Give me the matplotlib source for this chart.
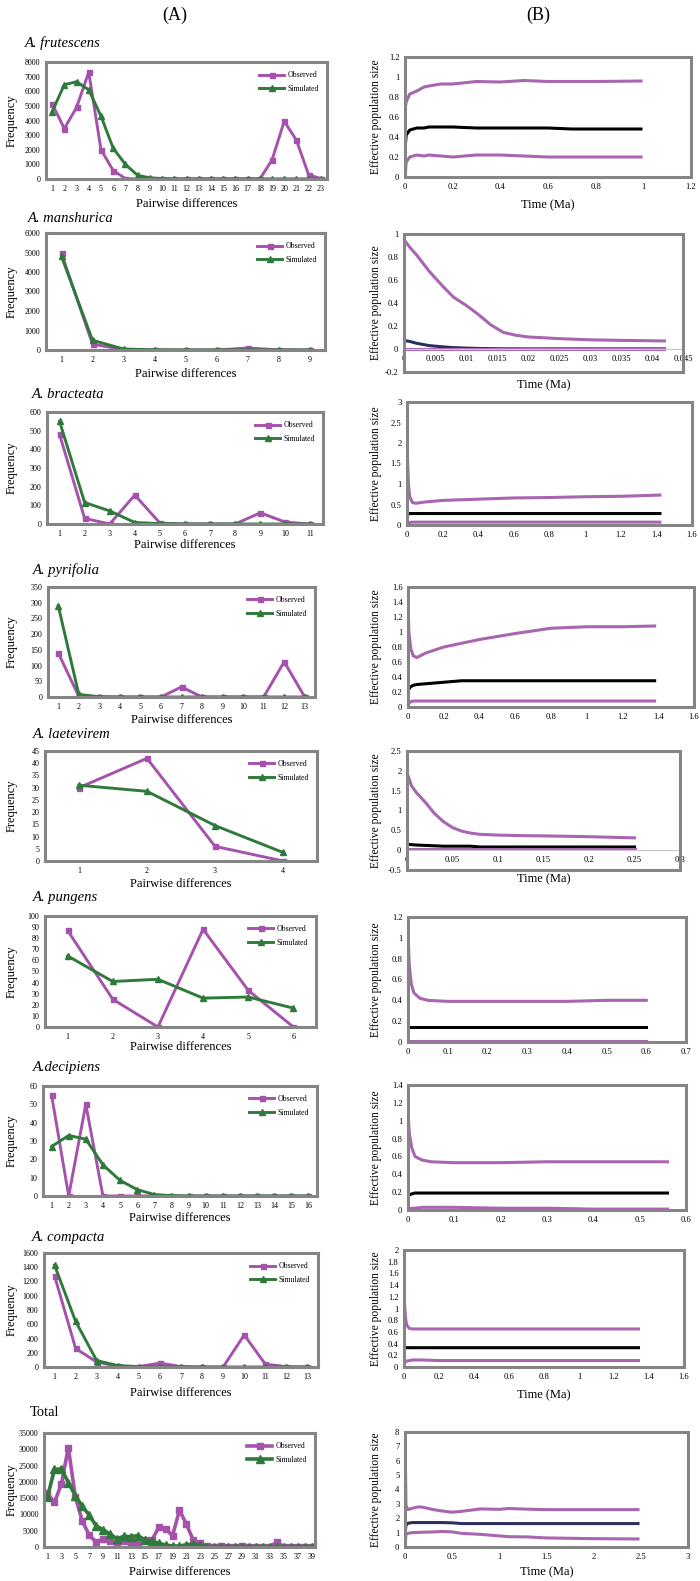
import matplotlib
matplotlib.use('Agg')
import matplotlib.pyplot as plt
from matplotlib.patches import Rectangle
from matplotlib.ticker import FuncFormatter
import numpy as np

plt.rcParams['font.family'] = ['Liberation Serif', 'DejaVu Serif']

W, H = 700, 1581
PURPLE = '#a452ab'
GREEN = '#2f7a3a'
LINE = '#a866b0'
NAVY = '#2b2f5c'
FRAME = '#858585'

# ---- (A) mismatch distributions: observed / simulated frequency ----
frut_obs = [5150, 3450, 4900, 7300, 2000, 580, 30, 0, 0, 0, 0, 0, 0, 0, 0, 0, 0, 0, 1300, 3950, 2650, 280, 30]
frut_sim = [4600, 6450, 6650, 6100, 4300, 2100, 1000, 250, 80, 30, 10, 10, 10, 10, 10, 10, 10, 10, 10, 10, 10, 10, 10]

mans_obs = [4950, 300, 20, 0, 0, 0, 100, 10, 0]
mans_sim = [4800, 500, 50, 10, 5, 5, 5, 5, 5]

brac_obs = [480, 30, 0, 155, 5, 0, 0, 0, 60, 10, 0]
brac_sim = [550, 115, 70, 8, 2, 0, 0, 0, 0, 0, 0]

pyri_obs = [140, 2, 0, 0, 0, 0, 32, 0, 0, 0, 0, 112, 0]
pyri_sim = [290, 8, 1, 0, 0, 0, 0, 0, 0, 0, 0, 0, 0]

laet_obs = [30, 42, 6, 0]
laet_sim = [31, 28.5, 14.5, 3.5]

pung_obs = [87, 25, 0, 88, 33, 0]
pung_sim = [64, 41, 43, 26, 27, 17]

deci_obs = [55, 0, 50, 0, 0, 0, 0, 0, 0, 0, 0, 0, 0, 0, 0, 0]
deci_sim = [27, 33, 31, 17, 8.5, 3.5, 0.8, 0.2, 0, 0, 0, 0, 0, 0, 0, 0]

comp_obs = [1280, 260, 70, 10, 5, 55, 5, 0, 0, 450, 40, 5, 0]
comp_sim = [1430, 640, 90, 20, 5, 5, 2, 0, 0, 0, 0, 0, 0]

tot_obs = [16500, 13700, 19300, 30500, 15500, 8000, 3700, 1500, 2400, 1800, 800, 1800, 1200, 800,
           2000, 2000, 6000, 5500, 3500, 11300, 7000, 2000, 1200, 200, 100, 400, 100, 100, 300, 100,
           100, 100, 100, 1500, 100, 100, 100, 100, 100]
tot_sim = [15300, 23800, 24000, 19800, 15800, 12500, 9800, 6500, 5300, 4000, 2500, 3300, 3200, 3500,
           2200, 1800, 1200, 600, 300, 300, 700, 900, 500, 100, 100, 100, 100, 100, 100, 100,
           100, 100, 100, 100, 100, 100, 100, 100, 100]

# ---- (B) skyline plots: time (Ma), upper HPD, median, lower HPD ----
frut_t = [0, 0.005, 0.02, 0.05, 0.08, 0.1, 0.15, 0.2, 0.3, 0.4, 0.5, 0.6, 0.7, 0.8, 0.99]
frut_up = [0.68, 0.75, 0.83, 0.86, 0.9, 0.91, 0.93, 0.93, 0.955, 0.95, 0.965, 0.955, 0.955, 0.955, 0.96]
frut_med = [0.28, 0.42, 0.47, 0.49, 0.49, 0.5, 0.5, 0.5, 0.49, 0.49, 0.49, 0.49, 0.48, 0.48, 0.48]
frut_lo = [0.0, 0.15, 0.2, 0.22, 0.21, 0.22, 0.21, 0.2, 0.22, 0.22, 0.21, 0.2, 0.2, 0.2, 0.2]

mans_t = [0, 0.001, 0.002, 0.004, 0.006, 0.008, 0.01, 0.012, 0.014, 0.016, 0.018, 0.02, 0.025, 0.03, 0.035, 0.042]
mans_up = [0.95, 0.88, 0.82, 0.68, 0.56, 0.45, 0.38, 0.3, 0.21, 0.145, 0.12, 0.105, 0.09, 0.08, 0.075, 0.07]
mans_med = [0.075, 0.065, 0.05, 0.03, 0.02, 0.012, 0.008, 0.005, 0.003, 0.002, 0.002, 0.001, 0.001, 0.001, 0.001, 0.001]
mans_lo = [0, 0, 0, 0, 0, 0, 0, 0, 0, 0, 0, 0, 0, 0, 0, 0]

brac_t = [0, 0.003, 0.008, 0.015, 0.03, 0.05, 0.1, 0.2, 0.4, 0.6, 0.8, 1.0, 1.2, 1.42]
brac_up = [2.9, 1.6, 1.0, 0.7, 0.55, 0.53, 0.56, 0.6, 0.63, 0.66, 0.67, 0.69, 0.7, 0.73]
brac_med = [0.22, 0.25, 0.27, 0.28, 0.28, 0.28, 0.28, 0.28, 0.28, 0.28, 0.28, 0.28, 0.28, 0.28]
brac_lo = [0.0, 0.03, 0.05, 0.06, 0.07, 0.07, 0.07, 0.07, 0.07, 0.07, 0.07, 0.07, 0.07, 0.07]

pyri_t = [0, 0.005, 0.015, 0.03, 0.05, 0.1, 0.2, 0.3, 0.4, 0.6, 0.8, 1.0, 1.2, 1.38]
pyri_up = [1.4, 1.0, 0.78, 0.68, 0.66, 0.72, 0.8, 0.85, 0.9, 0.98, 1.05, 1.07, 1.07, 1.08]
pyri_med = [0.2, 0.24, 0.27, 0.29, 0.3, 0.31, 0.33, 0.35, 0.35, 0.35, 0.35, 0.35, 0.35, 0.35]
pyri_lo = [0.0, 0.05, 0.07, 0.08, 0.08, 0.08, 0.08, 0.08, 0.08, 0.08, 0.08, 0.08, 0.08, 0.08]

laet_t = [0, 0.005, 0.01, 0.02, 0.03, 0.04, 0.05, 0.06, 0.07, 0.08, 0.1, 0.13, 0.15, 0.2, 0.25]
laet_up = [1.95, 1.62, 1.46, 1.21, 0.93, 0.72, 0.57, 0.48, 0.43, 0.4, 0.38, 0.365, 0.36, 0.34, 0.31]
laet_med = [0.15, 0.14, 0.13, 0.12, 0.11, 0.1, 0.1, 0.1, 0.1, 0.08, 0.08, 0.08, 0.08, 0.08, 0.08]
laet_lo = [0.02, 0.02, 0.02, 0.02, 0.02, 0.02, 0.02, 0.02, 0.02, 0.02, 0.02, 0.02, 0.02, 0.02, 0.02]

pung_t = [0, 0.003, 0.008, 0.015, 0.03, 0.05, 0.1, 0.2, 0.3, 0.4, 0.5, 0.6]
pung_up = [1.05, 0.75, 0.56, 0.47, 0.42, 0.4, 0.39, 0.39, 0.39, 0.39, 0.4, 0.4]
pung_med = [0.14, 0.14, 0.14, 0.14, 0.14, 0.14, 0.14, 0.14, 0.14, 0.14, 0.14, 0.14]
pung_lo = [0.01, 0.01, 0.01, 0.01, 0.01, 0.01, 0.01, 0.01, 0.01, 0.01, 0.01, 0.01]

deci_t = [0, 0.003, 0.008, 0.015, 0.03, 0.05, 0.1, 0.2, 0.3, 0.4, 0.5, 0.56]
deci_up = [1.1, 0.85, 0.7, 0.6, 0.56, 0.54, 0.53, 0.53, 0.54, 0.54, 0.54, 0.54]
deci_med = [0.15, 0.17, 0.18, 0.19, 0.19, 0.19, 0.19, 0.19, 0.19, 0.19, 0.19, 0.19]
deci_lo = [0.0, 0.01, 0.02, 0.02, 0.03, 0.03, 0.03, 0.02, 0.02, 0.01, 0.01, 0.01]

comp_t = [0, 0.003, 0.008, 0.015, 0.03, 0.05, 0.1, 0.2, 0.4, 0.6, 0.8, 1.0, 1.2, 1.34]
comp_up = [1.6, 1.1, 0.85, 0.72, 0.66, 0.65, 0.65, 0.65, 0.65, 0.65, 0.65, 0.65, 0.65, 0.65]
comp_med = [0.35, 0.34, 0.33, 0.33, 0.33, 0.33, 0.33, 0.33, 0.33, 0.33, 0.33, 0.33, 0.33, 0.33]
comp_lo = [0.0, 0.06, 0.09, 0.1, 0.11, 0.12, 0.12, 0.11, 0.11, 0.11, 0.11, 0.11, 0.11, 0.11]

tot_t = [0, 0.01, 0.03, 0.08, 0.15, 0.2, 0.3, 0.4, 0.5, 0.6, 0.8, 1.0, 1.1, 1.3, 1.5, 2.0, 2.47]
tot_up = [8.0, 2.9, 2.6, 2.7, 2.8, 2.75, 2.6, 2.5, 2.42, 2.48, 2.65, 2.62, 2.68, 2.63, 2.6, 2.6, 2.6]
tot_med = [0.9, 1.5, 1.65, 1.7, 1.7, 1.7, 1.7, 1.7, 1.68, 1.63, 1.63, 1.63, 1.63, 1.63, 1.63, 1.63, 1.63]
tot_lo = [0.0, 0.9, 0.95, 1.0, 1.02, 1.03, 1.05, 1.08, 1.05, 0.95, 0.88, 0.77, 0.72, 0.7, 0.63, 0.58, 0.56]

fig = plt.figure(figsize=(7, 15.81), dpi=100)


def box(b):
    x0, y0, x1, y1 = b
    return [x0 / W, 1 - y1 / H, (x1 - x0) / W, (y1 - y0) / H]


num = FuncFormatter(lambda v, p: f'{round(v, 6):g}')


def left(b, title, obs, sim, ymax, ystep, title_xy, xlab_y, every=1, italic=True, big=False):
    ax = fig.add_axes(box(b))
    cats = np.arange(1, len(obs) + 1)
    lw, ms = (2.6, 4.5) if big else (2.1, 3.6)
    ax.plot(cats, obs, color=PURPLE, lw=lw, marker='s', ms=ms, label='Observed')
    ax.plot(cats, sim, color=GREEN, lw=lw, marker='^', ms=ms + 0.6, label='Simulated')
    ax.set_xlim(0.5, len(obs) + 0.5)
    ax.set_ylim(0, ymax)
    ax.set_yticks(np.arange(0, ymax + ystep / 2, ystep))
    ax.set_xticks(cats[::every])
    ax.yaxis.set_major_formatter(num)
    ax.tick_params(length=0, labelsize=5.8, pad=4)
    for s in ax.spines.values():
        s.set_color(FRAME)
        s.set_linewidth(2.2)
    ax.legend(loc='upper right', bbox_to_anchor=(0.995, 0.98), frameon=False, fontsize=5.6,
              handlelength=3.2, labelspacing=0.7, handletextpad=0.4)
    ax.set_ylabel('Frequency', fontsize=9)
    ax.yaxis.set_label_coords((18 - b[0]) / (b[2] - b[0]), 0.5)
    fig.text(title_xy[0] / W, 1 - title_xy[1] / H, title, ha='left', va='center', fontsize=10.5,
             style='italic' if italic else 'normal')
    fig.text((b[0] + b[2]) / 2 / W, 1 - xlab_y / H, 'Pairwise differences', ha='center',
             va='center', fontsize=9)
    return ax


def right(b, t, up, med, lo, xmax, xstep, ymin, ymax, ystep, xlab_y=None, med_color='black'):
    ax = fig.add_axes(box(b))
    ax.plot(t, med, color=med_color, lw=2.2)
    ax.plot(t, lo, color=LINE, lw=2.2)
    ax.plot(t, up, color=LINE, lw=2.2)
    ax.set_xlim(0, xmax)
    ax.set_ylim(ymin, ymax)
    ax.set_xticks(np.arange(0, xmax + xstep / 2, xstep))
    ax.set_yticks(np.arange(ymin, ymax + ystep / 2, ystep))
    ax.xaxis.set_major_formatter(num)
    ax.yaxis.set_major_formatter(num)
    ax.tick_params(length=0, labelsize=6.2, pad=4)
    for s in ['top', 'left', 'right']:
        ax.spines[s].set_visible(False)
    if ymin < 0:
        ax.spines['bottom'].set_position(('data', 0))
        ax.spines['bottom'].set_color('#c8c8c8')
        ax.spines['bottom'].set_linewidth(0.8)
    else:
        ax.spines['bottom'].set_visible(False)
    ax.add_patch(Rectangle((0, 0), 1, 1, transform=ax.transAxes, fill=False,
                           edgecolor=FRAME, lw=2.2, clip_on=False, zorder=5))
    ax.set_ylabel('Effective population size', fontsize=8.3)
    ax.yaxis.set_label_coords((382 - b[0]) / (b[2] - b[0]), 0.5)
    if xlab_y is not None:
        fig.text((b[0] + b[2]) / 2 / W, 1 - xlab_y / H, 'Time (Ma)', ha='center', va='center',
                 fontsize=9)
    return ax


fig.text(175 / W, 1 - 15 / H, '(A)', ha='center', va='center', fontsize=13)
fig.text(538 / W, 1 - 15 / H, '(B)', ha='center', va='center', fontsize=13)

left((46, 62, 327, 179), 'A. frutescens', frut_obs, frut_sim, 8000, 1000, (25, 43), 204)
left((46, 233, 325, 350), 'A. manshurica', mans_obs, mans_sim, 6000, 1000, (28, 219), 374)
left((47, 412, 323, 524), 'A. bracteata', brac_obs, brac_sim, 600, 100, (32, 395), 545)
left((48, 587, 315, 697), 'A. pyrifolia', pyri_obs, pyri_sim, 350, 50, (33, 570), 720)
left((45, 751, 317, 861), 'A. laetevirem', laet_obs, laet_sim, 45, 5, (33, 735), 884)
left((45, 916, 316, 1027), 'A. pungens', pung_obs, pung_sim, 100, 10, (33, 898), 1047)
left((43, 1086, 317, 1196), 'A.decipiens', deci_obs, deci_sim, 60, 10, (33, 1067), 1218)
left((44, 1253, 318, 1367), 'A. compacta', comp_obs, comp_sim, 1600, 200, (32, 1237), 1393)
left((44, 1433, 315, 1547), 'Total', tot_obs, tot_sim, 35000, 5000, (30, 1413), 1572, every=2,
     italic=False, big=True)

right((405, 57, 691, 177), frut_t, frut_up, frut_med, frut_lo, 1.2, 0.2, 0, 1.2, 0.2, 205)
right((404, 234, 683, 372), mans_t, mans_up, mans_med, mans_lo, 0.045, 0.005, -0.2, 1, 0.2, 385,
      med_color=NAVY)
right((407, 402, 692, 525), brac_t, brac_up, brac_med, brac_lo, 1.6, 0.2, 0, 3, 0.5)
right((408, 587, 694, 707), pyri_t, pyri_up, pyri_med, pyri_lo, 1.6, 0.2, 0, 1.6, 0.2)
right((407, 751, 680, 870), laet_t, laet_up, laet_med, laet_lo, 0.3, 0.05, -0.5, 2.5, 0.5, 879)
right((408, 917, 686, 1042), pung_t, pung_up, pung_med, pung_lo, 0.7, 0.1, 0, 1.2, 0.2)
right((408, 1085, 686, 1210), deci_t, deci_up, deci_med, deci_lo, 0.6, 0.1, 0, 1.4, 0.2)
right((404, 1250, 684, 1367), comp_t, comp_up, comp_med, comp_lo, 1.6, 0.2, 0, 2, 0.2, 1395)
right((405, 1432, 688, 1547), tot_t, tot_up, tot_med, tot_lo, 3, 0.5, 0, 8, 1, 1572, med_color=NAVY)

fig.savefig('out.png', dpi=100)
